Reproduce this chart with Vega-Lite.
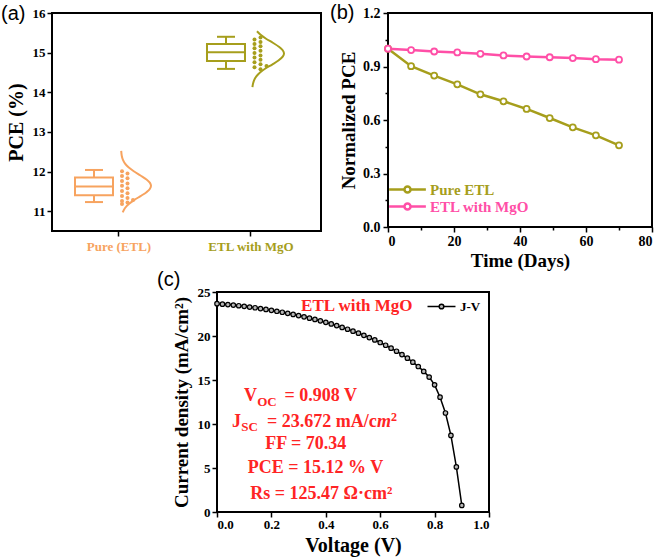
{
"$schema": "https://vega.github.io/schema/vega-lite/v6.json",
"background": "white",
"padding": {"left": 0, "top": 2, "right": 5, "bottom": 2},
"spacing": -3,
"resolve": {"scale": {"color": "independent"}, "legend": {"color": "independent"}},
"config": {
  "view": {"stroke": "black", "strokeWidth": 2},
  "axis": {"domain": false, "grid": false, "labelFont": "Liberation Serif", "labelFontWeight": "bold", "labelColor": "black", "titleFont": "Liberation Serif", "titleFontWeight": "bold", "titleColor": "black", "tickColor": "black", "tickWidth": 1.5, "tickSize": 5},
  "title": {"font": "Liberation Sans", "fontWeight": "normal", "fontSize": 20, "color": "black", "anchor": "start", "frame": "group", "baseline": "top", "offset": 0},
  "legend": {"labelFont": "Liberation Serif", "labelFontWeight": "bold", "labelColor": "black"}
},
"datasets": {
  "box": [
    {"group": "Pure (ETL)", "lo": 11.23, "q1": 11.40, "med": 11.62, "q3": 11.85, "hi": 12.04},
    {"group": "ETL with MgO", "lo": 14.59, "q1": 14.79, "med": 15.01, "q3": 15.22, "hi": 15.40}
  ],
  "dots": [
    {"group": "Pure (ETL)", "pce": 12.01, "lane": 0}, {"group": "Pure (ETL)", "pce": 11.95, "lane": 1},
    {"group": "Pure (ETL)", "pce": 11.89, "lane": 0}, {"group": "Pure (ETL)", "pce": 11.83, "lane": 1},
    {"group": "Pure (ETL)", "pce": 11.76, "lane": 0}, {"group": "Pure (ETL)", "pce": 11.70, "lane": 1},
    {"group": "Pure (ETL)", "pce": 11.64, "lane": 0}, {"group": "Pure (ETL)", "pce": 11.58, "lane": 1},
    {"group": "Pure (ETL)", "pce": 11.51, "lane": 0}, {"group": "Pure (ETL)", "pce": 11.45, "lane": 1},
    {"group": "Pure (ETL)", "pce": 11.38, "lane": 0}, {"group": "Pure (ETL)", "pce": 11.33, "lane": 1},
    {"group": "Pure (ETL)", "pce": 11.28, "lane": 2}, {"group": "Pure (ETL)", "pce": 11.26, "lane": 0},
    {"group": "Pure (ETL)", "pce": 11.22, "lane": 1}, {"group": "Pure (ETL)", "pce": 11.18, "lane": 0},
    {"group": "ETL with MgO", "pce": 15.38, "lane": 1}, {"group": "ETL with MgO", "pce": 15.33, "lane": 0},
    {"group": "ETL with MgO", "pce": 15.27, "lane": 1}, {"group": "ETL with MgO", "pce": 15.22, "lane": 0},
    {"group": "ETL with MgO", "pce": 15.16, "lane": 1}, {"group": "ETL with MgO", "pce": 15.11, "lane": 0},
    {"group": "ETL with MgO", "pce": 15.05, "lane": 1}, {"group": "ETL with MgO", "pce": 14.99, "lane": 0},
    {"group": "ETL with MgO", "pce": 14.93, "lane": 1}, {"group": "ETL with MgO", "pce": 14.88, "lane": 0},
    {"group": "ETL with MgO", "pce": 14.82, "lane": 1}, {"group": "ETL with MgO", "pce": 14.76, "lane": 0},
    {"group": "ETL with MgO", "pce": 14.71, "lane": 1}, {"group": "ETL with MgO", "pce": 14.66, "lane": 2},
    {"group": "ETL with MgO", "pce": 14.63, "lane": 0}, {"group": "ETL with MgO", "pce": 14.58, "lane": 1}
  ],
  "curve": [
    {"group": "Pure (ETL)", "pce": 12.52, "dens": 0.007}, {"group": "Pure (ETL)", "pce": 12.40, "dens": 0.025},
    {"group": "Pure (ETL)", "pce": 12.30, "dens": 0.062}, {"group": "Pure (ETL)", "pce": 12.20, "dens": 0.135},
    {"group": "Pure (ETL)", "pce": 12.10, "dens": 0.26}, {"group": "Pure (ETL)", "pce": 12.00, "dens": 0.44},
    {"group": "Pure (ETL)", "pce": 11.90, "dens": 0.65}, {"group": "Pure (ETL)", "pce": 11.80, "dens": 0.85},
    {"group": "Pure (ETL)", "pce": 11.72, "dens": 0.96}, {"group": "Pure (ETL)", "pce": 11.64, "dens": 1.0},
    {"group": "Pure (ETL)", "pce": 11.56, "dens": 0.96}, {"group": "Pure (ETL)", "pce": 11.48, "dens": 0.85},
    {"group": "Pure (ETL)", "pce": 11.38, "dens": 0.65}, {"group": "Pure (ETL)", "pce": 11.28, "dens": 0.44},
    {"group": "Pure (ETL)", "pce": 11.18, "dens": 0.26}, {"group": "Pure (ETL)", "pce": 11.08, "dens": 0.135},
    {"group": "Pure (ETL)", "pce": 10.97, "dens": 0.057},
    {"group": "ETL with MgO", "pce": 15.54, "dens": 0.155}, {"group": "ETL with MgO", "pce": 15.45, "dens": 0.27},
    {"group": "ETL with MgO", "pce": 15.35, "dens": 0.44}, {"group": "ETL with MgO", "pce": 15.25, "dens": 0.65},
    {"group": "ETL with MgO", "pce": 15.15, "dens": 0.84}, {"group": "ETL with MgO", "pce": 15.06, "dens": 0.96},
    {"group": "ETL with MgO", "pce": 14.98, "dens": 1.0}, {"group": "ETL with MgO", "pce": 14.90, "dens": 0.96},
    {"group": "ETL with MgO", "pce": 14.80, "dens": 0.825}, {"group": "ETL with MgO", "pce": 14.70, "dens": 0.63},
    {"group": "ETL with MgO", "pce": 14.60, "dens": 0.42}, {"group": "ETL with MgO", "pce": 14.50, "dens": 0.25},
    {"group": "ETL with MgO", "pce": 14.40, "dens": 0.135}, {"group": "ETL with MgO", "pce": 14.30, "dens": 0.064},
    {"group": "ETL with MgO", "pce": 14.20, "dens": 0.027}, {"group": "ETL with MgO", "pce": 14.13, "dens": 0.014}
  ],
  "stab": [
    {"series": "Pure ETL", "day": 0, "norm": 1.0}, {"series": "Pure ETL", "day": 7, "norm": 0.902},
    {"series": "Pure ETL", "day": 14, "norm": 0.849}, {"series": "Pure ETL", "day": 21, "norm": 0.80},
    {"series": "Pure ETL", "day": 28, "norm": 0.744}, {"series": "Pure ETL", "day": 35, "norm": 0.705},
    {"series": "Pure ETL", "day": 42, "norm": 0.662}, {"series": "Pure ETL", "day": 49, "norm": 0.611},
    {"series": "Pure ETL", "day": 56, "norm": 0.559}, {"series": "Pure ETL", "day": 63, "norm": 0.514},
    {"series": "Pure ETL", "day": 70, "norm": 0.458},
    {"series": "ETL with MgO", "day": 0, "norm": 1.0}, {"series": "ETL with MgO", "day": 7, "norm": 0.992},
    {"series": "ETL with MgO", "day": 14, "norm": 0.984}, {"series": "ETL with MgO", "day": 21, "norm": 0.979},
    {"series": "ETL with MgO", "day": 28, "norm": 0.971}, {"series": "ETL with MgO", "day": 35, "norm": 0.962},
    {"series": "ETL with MgO", "day": 42, "norm": 0.956}, {"series": "ETL with MgO", "day": 49, "norm": 0.952},
    {"series": "ETL with MgO", "day": 56, "norm": 0.947}, {"series": "ETL with MgO", "day": 63, "norm": 0.941},
    {"series": "ETL with MgO", "day": 70, "norm": 0.938}
  ],
  "jv": [
    {"V": 0.0, "J": 23.67}, {"V": 0.02, "J": 23.62}, {"V": 0.04, "J": 23.57}, {"V": 0.06, "J": 23.51},
    {"V": 0.08, "J": 23.44}, {"V": 0.1, "J": 23.37}, {"V": 0.12, "J": 23.29}, {"V": 0.14, "J": 23.21},
    {"V": 0.16, "J": 23.12}, {"V": 0.18, "J": 23.02}, {"V": 0.2, "J": 22.92}, {"V": 0.22, "J": 22.81},
    {"V": 0.24, "J": 22.70}, {"V": 0.26, "J": 22.58}, {"V": 0.28, "J": 22.45}, {"V": 0.3, "J": 22.32},
    {"V": 0.32, "J": 22.18}, {"V": 0.34, "J": 22.03}, {"V": 0.36, "J": 21.88}, {"V": 0.38, "J": 21.72},
    {"V": 0.4, "J": 21.55}, {"V": 0.42, "J": 21.37}, {"V": 0.44, "J": 21.18}, {"V": 0.46, "J": 20.98},
    {"V": 0.48, "J": 20.77}, {"V": 0.5, "J": 20.55}, {"V": 0.52, "J": 20.32}, {"V": 0.54, "J": 20.08},
    {"V": 0.56, "J": 19.82}, {"V": 0.58, "J": 19.55}, {"V": 0.6, "J": 19.26}, {"V": 0.62, "J": 18.95},
    {"V": 0.64, "J": 18.62}, {"V": 0.66, "J": 18.27}, {"V": 0.68, "J": 17.89}, {"V": 0.7, "J": 17.48},
    {"V": 0.72, "J": 17.03}, {"V": 0.74, "J": 16.53}, {"V": 0.76, "J": 15.98}, {"V": 0.78, "J": 15.33},
    {"V": 0.8, "J": 14.45}, {"V": 0.82, "J": 13.05}, {"V": 0.84, "J": 11.25}, {"V": 0.86, "J": 8.70},
    {"V": 0.88, "J": 5.12}, {"V": 0.9, "J": 0.75}
  ]
},
"vconcat": [
  {
    "spacing": 7,
    "resolve": {"scale": {"color": "independent"}, "legend": {"color": "independent"}},
    "hconcat": [
      {
        "width": 269,
        "height": 218,
        "title": {"text": "(a)", "dx": -51, "dy": 20.5},
        "resolve": {"scale": {"x": "independent"}},
        "layer": [
          {
            "data": {"name": "dots"},
            "transform": [{"filter": "datum.group === 'Pure (ETL)'"}],
            "mark": {"type": "point", "filled": true, "size": 16, "opacity": 1, "color": "#F7A35F"},
            "encoding": {
              "x": {"field": "lane", "type": "quantitative", "scale": {"domain": [-12.727, 36.18], "nice": false, "zero": false}, "axis": null},
              "y": {"field": "pce", "type": "quantitative", "scale": {"domain": [10.5, 16], "nice": false, "zero": false},
                "axis": {"title": "PCE (%)", "values": [11, 12, 13, 14, 15, 16], "labelFontSize": 13, "titleFontSize": 20, "titlePadding": 6, "labelPadding": 2, "tickSize": 5}}
            }
          },
          {
            "data": {"name": "box"},
            "encoding": {
              "x": {"field": "group", "type": "nominal", "sort": ["Pure (ETL)", "ETL with MgO"],
                "scale": {"domain": ["Pure (ETL)", "ETL with MgO"], "paddingInner": 0, "paddingOuter": 0.019, "align": 0.2},
                "axis": {"title": null, "labelAngle": 0, "labelFontSize": 13, "labelPadding": 4, "tickSize": 5,
                  "labelColor": {"condition": {"test": "datum.value === 'Pure (ETL)'", "value": "#F7A35F"}, "value": "#A69E1C"}}},
              "color": {"field": "group", "type": "nominal", "scale": {"domain": ["Pure (ETL)", "ETL with MgO"], "range": ["#F7A35F", "#A69E1C"]}, "legend": null}
            },
            "layer": [
              {"mark": {"type": "rule", "xOffset": -25, "strokeWidth": 2},
               "encoding": {"y": {"field": "lo", "type": "quantitative"}, "y2": {"field": "hi"}}},
              {"mark": {"type": "bar", "xOffset": -25, "width": 38, "filled": false, "fill": "white", "strokeWidth": 2, "opacity": 1},
               "encoding": {"y": {"field": "q1", "type": "quantitative"}, "y2": {"field": "q3"}}},
              {"mark": {"type": "tick", "orient": "horizontal", "xOffset": -25, "size": 38, "thickness": 2, "opacity": 1},
               "encoding": {"y": {"field": "med", "type": "quantitative"}}},
              {"mark": {"type": "tick", "orient": "horizontal", "xOffset": -25, "size": 18, "thickness": 2, "opacity": 1},
               "encoding": {"y": {"field": "lo", "type": "quantitative"}}},
              {"mark": {"type": "tick", "orient": "horizontal", "xOffset": -25, "size": 18, "thickness": 2, "opacity": 1},
               "encoding": {"y": {"field": "hi", "type": "quantitative"}}}
            ]
          },
          {
            "data": {"name": "curve"},
            "transform": [{"filter": "datum.group === 'Pure (ETL)'"}],
            "mark": {"type": "line", "strokeWidth": 2, "color": "#F7A35F", "interpolate": "catmull-rom"},
            "encoding": {
              "x": {"field": "dens", "type": "quantitative", "scale": {"domain": [-2.3, 6.6667], "nice": false, "zero": false}, "axis": null},
              "y": {"field": "pce", "type": "quantitative"},
              "order": {"field": "pce", "type": "quantitative"}
            }
          },
          {
            "data": {"name": "dots"},
            "transform": [{"filter": "datum.group === 'ETL with MgO'"}],
            "mark": {"type": "point", "filled": true, "size": 16, "opacity": 1, "color": "#A69E1C"},
            "encoding": {
              "x": {"field": "lane", "type": "quantitative", "scale": {"domain": [-33.75, 11.083], "nice": false, "zero": false}, "axis": null},
              "y": {"field": "pce", "type": "quantitative"}
            }
          },
          {
            "data": {"name": "curve"},
            "transform": [{"filter": "datum.group === 'ETL with MgO'"}],
            "mark": {"type": "line", "strokeWidth": 2, "color": "#A69E1C", "interpolate": "catmull-rom"},
            "encoding": {
              "x": {"field": "dens", "type": "quantitative", "scale": {"domain": [-6.25, 2.15625], "nice": false, "zero": false}, "axis": null},
              "y": {"field": "pce", "type": "quantitative"},
              "order": {"field": "pce", "type": "quantitative"}
            }
          }
        ]
      },
      {
        "width": 264,
        "height": 214,
        "title": {"text": "(b)", "dx": -58, "dy": 21},
        "data": {"name": "stab"},
        "encoding": {
          "x": {"field": "day", "type": "quantitative", "scale": {"domain": [0, 80], "nice": false},
            "axis": {"title": "Time (Days)", "values": [0, 10, 20, 30, 40, 50, 60, 70, 80],
              "labelExpr": "datum.value % 20 === 0 ? datum.label : ''",
              "tickSize": {"condition": {"test": "datum.value % 20 === 0", "value": 5}, "value": 3},
              "labelFontSize": 14, "labelPadding": 2, "titleFontSize": 19, "titlePadding": 3}},
          "y": {"field": "norm", "type": "quantitative", "scale": {"domain": [0, 1.2], "nice": false},
            "axis": {"title": "Normalized PCE", "values": [0, 0.15, 0.3, 0.45, 0.6, 0.75, 0.9, 1.05, 1.2], "format": ".1f",
              "labelExpr": "indexof([0, 0.3, 0.6, 0.9, 1.2], datum.value) >= 0 ? datum.label : ''",
              "tickSize": {"condition": {"test": "indexof([0, 0.3, 0.6, 0.9, 1.2], datum.value) >= 0", "value": 5}, "value": 3},
              "labelFontSize": 14, "labelPadding": 3, "titleFontSize": 19, "titlePadding": 4}},
          "color": {"field": "series", "type": "nominal", "scale": {"domain": ["Pure ETL", "ETL with MgO"], "range": ["#A69E1C", "#FF4FA7"]},
            "legend": {"title": null, "orient": "bottom-left", "offset": 12, "padding": 0,
              "symbolType": "M-3,0H-0.55M0.55,0H3M-0.5,0A0.5,0.5,0,1,1,0.5,0A0.5,0.5,0,1,1,-0.5,0",
              "symbolSize": 150, "symbolStrokeWidth": 2.5, "symbolFillColor": "white",
              "labelFontSize": 15, "labelOffset": 15, "rowPadding": 0,
              "encode": {"labels": {"update": {"fill": {"signal": "datum.value === 'Pure ETL' ? '#A69E1C' : '#FF4FA7'"}}},
                         "symbols": {"update": {"fill": {"value": "white"}}}}}}
        },
        "layer": [
          {"mark": {"type": "line", "strokeWidth": 2.5}},
          {"mark": {"type": "point", "filled": false, "fill": "white", "size": 36, "strokeWidth": 1.8, "opacity": 1}}
        ]
      }
    ]
  },
  {
    "spacing": 0,
    "resolve": {"scale": {"color": "independent"}, "legend": {"color": "independent"}},
    "hconcat": [
      {
        "width": 104,
        "height": 1,
        "view": {"stroke": null},
        "data": {"values": [{"t": ""}]},
        "mark": {"type": "text"},
        "encoding": {"text": {"field": "t"}}
      },
      {
        "width": 272,
        "height": 220,
        "title": {"text": "(c)", "dx": -60, "dy": 7.5},
        "layer": [
          {
            "data": {"name": "jv"},
            "encoding": {
              "x": {"field": "V", "type": "quantitative", "scale": {"domain": [0, 1], "nice": false},
                "axis": {"title": "Voltage (V)", "values": [0, 0.1, 0.2, 0.3, 0.4, 0.5, 0.6, 0.7, 0.8, 0.9, 1], "format": ".1f",
                  "labelExpr": "indexof([0, 0.2, 0.4, 0.6, 0.8, 1], datum.value) >= 0 ? datum.label : ''",
                  "tickSize": {"condition": {"test": "indexof([0, 0.2, 0.4, 0.6, 0.8, 1], datum.value) >= 0", "value": 5}, "value": 3},
                  "labelFontSize": 13, "labelPadding": 1, "titleFontSize": 20, "titlePadding": 4}},
              "y": {"field": "J", "type": "quantitative", "scale": {"domain": [0, 25], "nice": false},
                "axis": {"title": "Current density (mA/cm²)", "values": [0, 2.5, 5, 7.5, 10, 12.5, 15, 17.5, 20, 22.5, 25],
                  "labelExpr": "datum.value % 5 === 0 ? datum.label : ''",
                  "tickSize": {"condition": {"test": "datum.value % 5 === 0", "value": 5}, "value": 3},
                  "labelFontSize": 13, "labelPadding": 2, "titleFontSize": 19, "titlePadding": 6}},
              "color": {"datum": "J-V", "type": "nominal", "scale": {"domain": ["J-V"], "range": ["black"]},
                "legend": {"title": null, "orient": "top-right", "offset": 8, "padding": 0,
                  "symbolType": "M-3,0H-0.55M0.55,0H3M-0.5,0A0.5,0.5,0,1,1,0.5,0A0.5,0.5,0,1,1,-0.5,0",
                  "symbolSize": 87, "symbolStrokeWidth": 1.5, "labelFontSize": 13, "labelOffset": 12,
                  "encode": {"symbols": {"update": {"fill": {"value": "#bbbbbb"}, "stroke": {"value": "black"}}}}}}
            },
            "layer": [
              {"mark": {"type": "line", "strokeWidth": 1.5}},
              {"mark": {"type": "point", "filled": false, "fill": "#b8b8b8", "size": 20, "strokeWidth": 1.2, "opacity": 1}}
            ]
          },
          {"data": {"values": [{}]}, "mark": {"type": "text", "font": "Liberation Serif", "fontWeight": "bold", "fontSize": 17, "color": "#FF2424", "align": "center", "baseline": "alphabetic"},
           "encoding": {"x": {"datum": 0.514}, "y": {"datum": 22.84}, "text": {"value": "ETL with MgO"}}},
          {"data": {"values": [{}]}, "mark": {"type": "text", "font": "Liberation Serif", "fontWeight": "bold", "fontSize": 18, "color": "#FF2424", "align": "right", "baseline": "alphabetic"},
           "encoding": {"x": {"datum": 0.1472}, "y": {"datum": 12.59}, "text": {"value": "V"}}},
          {"data": {"values": [{}]}, "mark": {"type": "text", "font": "Liberation Serif", "fontWeight": "bold", "fontSize": 13, "color": "#FF2424", "align": "left", "baseline": "alphabetic"},
           "encoding": {"x": {"datum": 0.148}, "y": {"datum": 12.02}, "text": {"value": "OC"}}},
          {"data": {"values": [{}]}, "mark": {"type": "text", "font": "Liberation Serif", "fontWeight": "bold", "fontSize": 18, "color": "#FF2424", "align": "left", "baseline": "alphabetic"},
           "encoding": {"x": {"datum": 0.248}, "y": {"datum": 12.59}, "text": {"value": "= 0.908 V"}}},
          {"data": {"values": [{}]}, "mark": {"type": "text", "font": "Liberation Serif", "fontWeight": "bold", "fontSize": 18, "color": "#FF2424", "align": "right", "baseline": "alphabetic"},
           "encoding": {"x": {"datum": 0.0883}, "y": {"datum": 9.68}, "text": {"value": "J"}}},
          {"data": {"values": [{}]}, "mark": {"type": "text", "font": "Liberation Serif", "fontWeight": "bold", "fontSize": 13, "color": "#FF2424", "align": "left", "baseline": "alphabetic"},
           "encoding": {"x": {"datum": 0.089}, "y": {"datum": 9.26}, "text": {"value": "SC"}}},
          {"data": {"values": [{}]}, "mark": {"type": "text", "font": "Liberation Serif", "fontWeight": "bold", "fontSize": 18, "color": "#FF2424", "align": "left", "baseline": "alphabetic"},
           "encoding": {"x": {"datum": 0.184}, "y": {"datum": 9.68}, "text": {"value": "= 23.672 mA/c"}}},
          {"data": {"values": [{}]}, "mark": {"type": "text", "font": "Liberation Serif", "fontWeight": "bold", "fontStyle": "italic", "fontSize": 18, "color": "#FF2424", "align": "left", "baseline": "alphabetic"},
           "encoding": {"x": {"datum": 0.5885}, "y": {"datum": 9.68}, "text": {"value": "m"}}},
          {"data": {"values": [{}]}, "mark": {"type": "text", "font": "Liberation Serif", "fontWeight": "bold", "fontSize": 12, "color": "#FF2424", "align": "left", "baseline": "alphabetic"},
           "encoding": {"x": {"datum": 0.64}, "y": {"datum": 10.3}, "text": {"value": "2"}}},
          {"data": {"values": [{}]}, "mark": {"type": "text", "font": "Liberation Serif", "fontWeight": "bold", "fontSize": 18, "color": "#FF2424", "align": "center", "baseline": "alphabetic"},
           "encoding": {"x": {"datum": 0.3265}, "y": {"datum": 7.17}, "text": {"value": "FF = 70.34"}}},
          {"data": {"values": [{}]}, "mark": {"type": "text", "font": "Liberation Serif", "fontWeight": "bold", "fontSize": 18, "color": "#FF2424", "align": "center", "baseline": "alphabetic"},
           "encoding": {"x": {"datum": 0.362}, "y": {"datum": 4.44}, "text": {"value": "PCE = 15.12 % V"}}},
          {"data": {"values": [{}]}, "mark": {"type": "text", "font": "Liberation Serif", "fontWeight": "bold", "fontSize": 18, "color": "#FF2424", "align": "center", "baseline": "alphabetic"},
           "encoding": {"x": {"datum": 0.3835}, "y": {"datum": 1.48}, "text": {"value": "Rs = 125.47 Ω·cm²"}}}
        ]
      }
    ]
  }
]
}
